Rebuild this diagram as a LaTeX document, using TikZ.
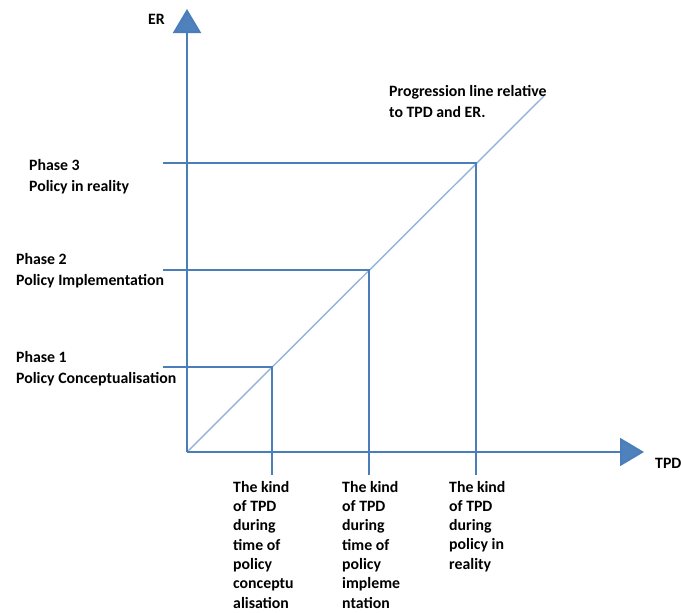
\documentclass[tikz,border=0pt]{standalone}
\usepackage{fontspec}
\setmainfont{Carlito}
\usetikzlibrary{arrows.meta}
\definecolor{axisblue}{HTML}{4F81BD}
\definecolor{lineblue}{HTML}{4A7EBB}
\definecolor{diagblue}{HTML}{95B3D7}
\tikzset{
  lbl/.style={inner sep=0pt, anchor=base west, align=left, font=\bfseries\fontsize{15.8}{21}\selectfont},
  kindlbl/.style={lbl, font=\bfseries\fontsize{15.8}{19.3}\selectfont},
  axisline/.style={line width=2.2pt, draw=lineblue, -{Triangle[length=24pt,width=28pt,fill=axisblue]}}
}
\begin{document}
\begin{tikzpicture}[x=1pt, y=-1pt, line cap=butt, line join=miter]
    \useasboundingbox (0,0) rectangle (681,613);
    \coordinate (O) at (187,452);
    \coordinate (ERtip) at (187,9);
    \coordinate (TPDtip) at (644,452);
    \coordinate (Dend) at (544,96);
    % steps of the progression line
    \foreach \n/\v in {1/85,2/182,3/289} {
      \coordinate (P\n) at (187+\v,452-\v);
      \coordinate (L\n) at (163,452-\v);
      \coordinate (B\n) at (187+\v,475);
    }
    \draw[diagblue, line width=1.4pt] (O) -- (Dend);
    \foreach \n in {1,2,3} \draw[lineblue, line width=2pt] (L\n) -- (P\n) -- (B\n);
    \draw[axisline] (O) -- (ERtip);
    \draw[axisline] (O) -- (TPDtip);
    % labels, placed at the baseline of their last line
    \node[lbl] (er) at (148,24) {ER};
    \node[lbl] (tpd) at (655,468) {TPD};
    \node[lbl] (prog) at (389,117) {Progression line relative\\to TPD and ER.};
    \node[lbl] (ph3) at (29,191) {Phase 3\\Policy in reality};
    \node[lbl] (ph2) at (16,285) {Phase 2\\Policy Implementation};
    \node[lbl] (ph1) at (16,383) {Phase 1\\Policy Conceptualisation};
    \node[kindlbl] (k1) at (233,608) {The kind\\of TPD\\during\\time of\\policy\\conceptu\\alisation};
    \node[kindlbl] (k2) at (342,608) {The kind\\of TPD\\during\\time of\\policy\\impleme\\ntation};
    \node[kindlbl] (k3) at (449,569.2) {The kind\\of TPD\\during\\policy in\\reality};
\end{tikzpicture}
\end{document}
